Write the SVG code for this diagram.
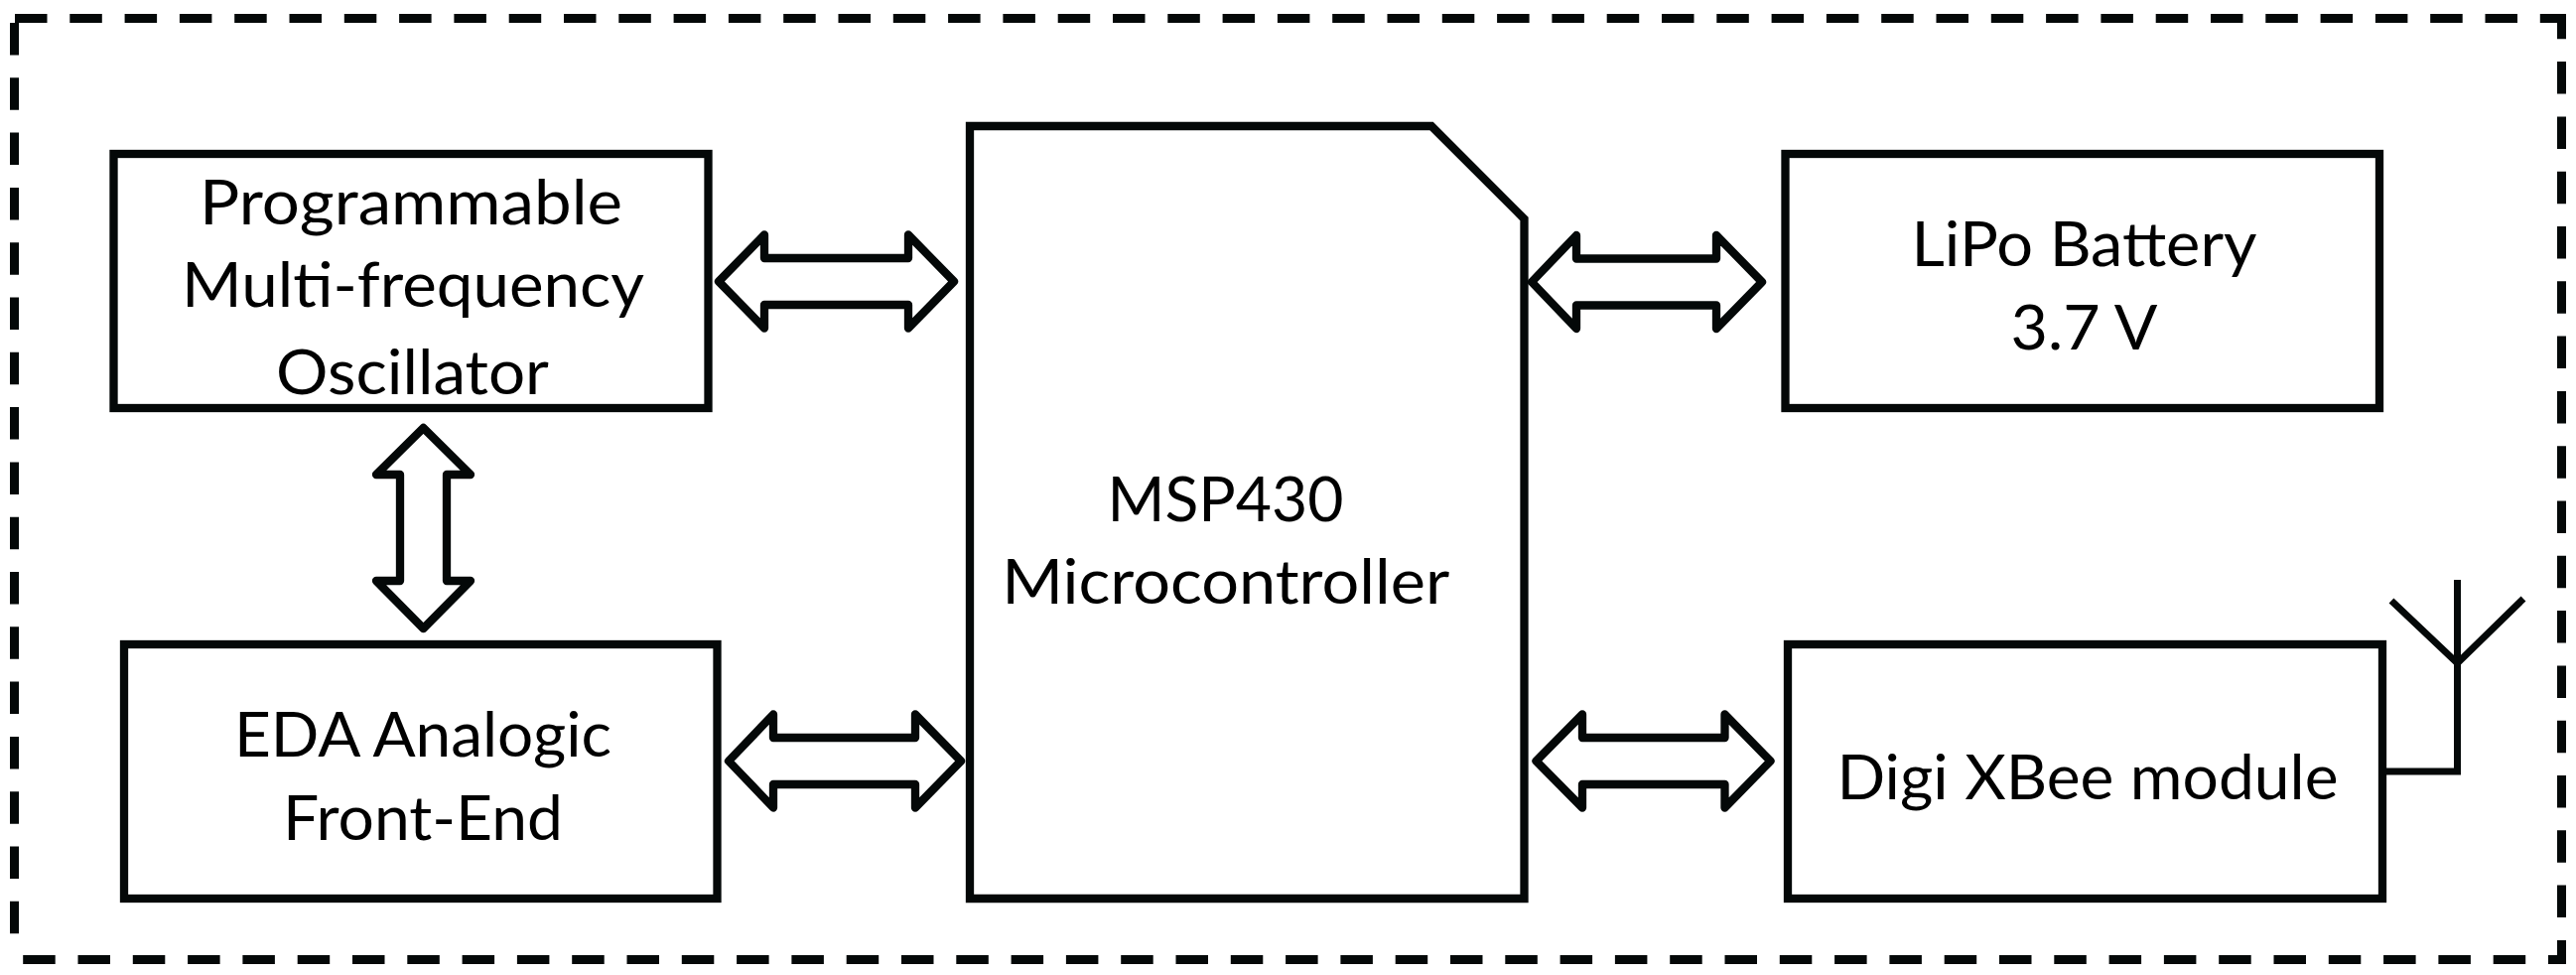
<svg xmlns="http://www.w3.org/2000/svg" width="2595" height="982" viewBox="0 0 2595 982">
  <style>
    .box { fill: #ffffff; stroke: #040808; stroke-width: 8.3; stroke-linejoin: miter; }
    .arrow { fill: #ffffff; stroke: #040808; stroke-width: 8.3; stroke-linejoin: round; }
    .dash { fill: none; stroke: #040808; stroke-width: 9; stroke-dasharray: 32.5 22.8; }
    .ant { fill: none; stroke: #040808; stroke-width: 7; stroke-linejoin: miter; }
    .lbl { font-family: Lato, "Liberation Sans", sans-serif; font-size: 61px; fill: #000000; text-anchor: middle; }
  </style>
  <rect x="0" y="0" width="2595" height="982" fill="#ffffff"/>

  <g id="border">
    <line class="dash" x1="15" y1="18.5" x2="2585" y2="18.5"/>
    <line class="dash" x1="14.5" y1="23" x2="14.5" y2="962"/>
    <line class="dash" x1="2580.5" y1="970.5" x2="2580.5" y2="14" stroke-dashoffset="8.9"/>
    <line class="dash" x1="2585" y1="966.5" x2="10" y2="966.5" stroke-dashoffset="14.5"/>
  </g>

  <g id="connectors">
    <path id="arrow-osc-msp" class="arrow" d="M724,283.5 L770,236.5 L770,260 L915,260 L915,236.5 L961,283.5 L915,330.5 L915,307 L770,307 L770,330.5 Z"/>
    <path id="arrow-msp-lipo" class="arrow" d="M1543,284 L1588,237 L1588,260.5 L1729,260.5 L1729,237 L1775,284 L1729,331 L1729,307.5 L1588,307.5 L1588,331 Z"/>
    <path id="arrow-eda-msp" class="arrow" d="M734,766.5 L779,719.5 L779,743 L922,743 L922,719.5 L968,766.5 L922,813.5 L922,790 L779,790 L779,813.5 Z"/>
    <path id="arrow-msp-xbee" class="arrow" d="M1547.5,766.5 L1594,719.5 L1594,743 L1737.5,743 L1737.5,719.5 L1783.5,766.5 L1737.5,813.5 L1737.5,790 L1594,790 L1594,813.5 Z"/>
    <path id="arrow-osc-eda" class="arrow" d="M426.5,431 L474,478 L450,478 L450,585 L474,585 L426.5,633 L379,585 L403,585 L403,478 L379,478 Z"/>
  </g>

  <g id="node-oscillator">
    <rect class="box" x="114.5" y="155" width="599" height="256"/>
    <text class="lbl" x="414" y="226" textLength="426" lengthAdjust="spacingAndGlyphs">Programmable</text>
    <text class="lbl" x="416" y="309" textLength="466" lengthAdjust="spacingAndGlyphs">Multi-frequency</text>
    <text class="lbl" x="415.5" y="396.5" textLength="275" lengthAdjust="spacingAndGlyphs">Oscillator</text>
  </g>

  <g id="node-eda">
    <rect class="box" x="125" y="649" width="597.5" height="256"/>
    <text class="lbl" x="426" y="762" textLength="380" lengthAdjust="spacingAndGlyphs">EDA Analogic</text>
    <text class="lbl" x="426" y="845.5" textLength="282" lengthAdjust="spacingAndGlyphs">Front-End</text>
  </g>

  <g id="node-msp430">
    <path class="box" d="M977,127 L1442,127 L1535.5,220.5 L1535.5,905 L977,905 Z"/>
    <text class="lbl" x="1234.5" y="524.7" textLength="238" lengthAdjust="spacingAndGlyphs">MSP430</text>
    <text class="lbl" x="1234.7" y="607.8" textLength="451" lengthAdjust="spacingAndGlyphs">Microcontroller</text>
  </g>

  <g id="node-lipo">
    <rect class="box" x="1798.5" y="155" width="598.5" height="256"/>
    <text class="lbl" x="2099.5" y="268.3" textLength="348" lengthAdjust="spacingAndGlyphs">LiPo Battery</text>
    <text class="lbl" x="2099.5" y="351.7" textLength="148" lengthAdjust="spacingAndGlyphs">3.7 V</text>
  </g>

  <g id="node-xbee">
    <rect class="box" x="1801" y="649" width="599" height="256"/>
    <text class="lbl" x="2103" y="804.6" textLength="505" lengthAdjust="spacingAndGlyphs">Digi XBee module</text>
    <g id="antenna">
      <path class="ant" d="M2402,777 L2475.5,777 L2475.5,584"/>
      <path class="ant" d="M2409,605 L2475.5,668 L2542,603"/>
    </g>
  </g>
</svg>
